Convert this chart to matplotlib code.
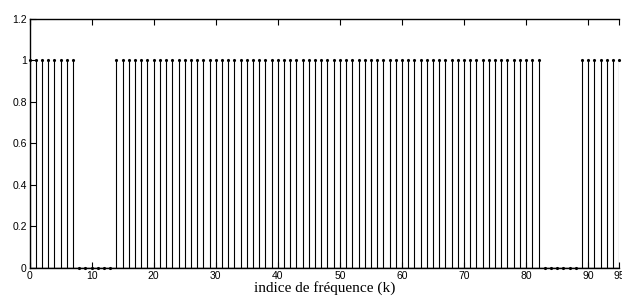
import matplotlib
matplotlib.use("Agg")
import matplotlib.pyplot as plt

# spectral mask: 1 = active subcarrier, 0 = null
k = list(range(96))
mask = [1, 1, 1, 1, 1, 1, 1, 1,
        0, 0, 0, 0, 0, 0,
        1, 1, 1, 1, 1, 1, 1, 1, 1, 1, 1, 1, 1, 1, 1, 1, 1, 1, 1, 1, 1, 1, 1,
        1, 1, 1, 1, 1, 1, 1, 1, 1, 1, 1, 1, 1, 1, 1, 1, 1, 1, 1, 1, 1, 1, 1,
        1, 1, 1, 1, 1, 1, 1, 1, 1, 1, 1, 1, 1, 1, 1, 1, 1, 1, 1, 1, 1, 1, 1,
        0, 0, 0, 0, 0, 0,
        1, 1, 1, 1, 1, 1, 1]

xticks = [0, 10, 20, 30, 40, 50, 60, 70, 80, 90, 95]
yticks = [0, 0.2, 0.4, 0.6, 0.8, 1, 1.2]
ytick_labels = ["0", "0.2", "0.4", "0.6", "0.8", "1", "1.2"]

fig = plt.figure(figsize=(6.22, 3.0), dpi=100)
ax = fig.add_axes([0.0475, 0.107, 0.948, 0.831])

markers, stems, base = ax.stem(k, mask, linefmt="k-", markerfmt="k.", basefmt="k-")
plt.setp(stems, linewidth=0.8)
plt.setp(markers, markersize=2.5, zorder=4, clip_on=False)
plt.setp(base, linewidth=1.0, zorder=2)

ax.set_xlim(0, 95)
ax.set_ylim(0, 1.2)
ax.set_xticks(xticks)
ax.set_yticks(yticks)
ax.set_yticklabels(ytick_labels)
ax.tick_params(direction="in", length=4, width=0.8, labelsize=7.5,
               top=True, right=False, pad=2)
for lab in ax.get_xticklabels() + ax.get_yticklabels():
    lab.set_fontfamily("Liberation Sans")
ax.spines["right"].set_visible(False)
for s in ["left", "bottom", "top"]:
    ax.spines[s].set_linewidth(1.0)

ax.set_xlabel("indice de fréquence (k)", fontfamily="Liberation Serif",
              fontsize=11, labelpad=0)

fig.savefig("out.png", dpi=100)
